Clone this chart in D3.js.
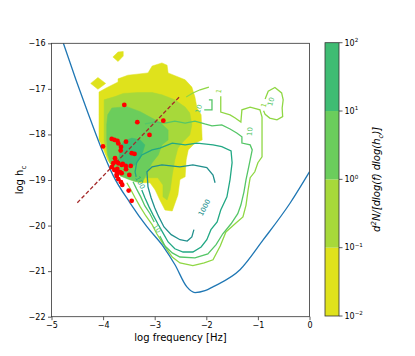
<!DOCTYPE html>
<html>
<head>
<meta charset="utf-8">
<script src="https://cdn.jsdelivr.net/npm/d3@7"></script>
<style>
  body { margin: 0; background: #fff; }
  svg { display: block; font-family: "DejaVu Sans", sans-serif; }
</style>
</head>
<body>
<svg id="chart" width="415" height="356"></svg>
<script>
// ---- data (log f [Hz], log h_c) ----
const xTicks = [-5, -4, -3, -2, -1, 0];
const yTicks = [-22, -21, -20, -19, -18, -17, -16];

// filled density levels and their colours
const fillLevels = [0.01, 0.1, 1, 10, 100];
const fillColors = ["#dfe21c", "#a7d93a", "#6bcd5c", "#3fbc73"];
const cbarExponents = [-2, -1, 0, 1, 2];

// region outlines for each filled band (outer -> inner)
const yellowRegion = [[-4.08,-18.12],[-4.08,-17.07],[-3.94,-16.98],[-3.71,-16.85],[-3.71,-16.78],[-3.52,-16.70],[-3.13,-16.65],[-3.05,-16.50],[-2.86,-16.43],[-2.76,-16.48],[-2.74,-16.65],[-2.41,-16.80],[-2.28,-16.96],[-2.22,-17.18],[-2.18,-17.42],[-2.10,-17.57],[-2.08,-18.12],[-2.22,-18.19],[-2.35,-18.34],[-2.39,-18.56],[-2.41,-18.93],[-2.51,-18.99],[-2.55,-19.33],[-2.66,-19.68],[-2.80,-19.66],[-2.90,-19.44],[-2.99,-19.22],[-3.09,-19.06],[-3.28,-19.06],[-3.48,-18.99],[-3.67,-18.89],[-3.81,-18.73],[-3.91,-18.56],[-3.99,-18.34],[-4.06,-18.16]];
const yellowDiamond = [[-4.24,-16.88],[-4.10,-16.75],[-3.95,-16.88],[-4.10,-17.01]];
const yellowTopBlob = [[-3.81,-16.30],[-3.71,-16.19],[-3.61,-16.18],[-3.61,-16.28],[-3.71,-16.40]];
const lightGreenRegion = [[-3.98,-17.24],[-3.77,-17.17],[-3.61,-17.10],[-3.32,-17.08],[-3.05,-17.08],[-2.86,-17.13],[-2.61,-17.24],[-2.41,-17.40],[-2.32,-17.53],[-2.28,-17.79],[-2.32,-18.01],[-2.45,-18.16],[-2.55,-18.30],[-2.61,-18.56],[-2.66,-18.89],[-2.70,-19.22],[-2.76,-19.44],[-2.84,-19.37],[-2.84,-19.11],[-2.94,-18.95],[-3.09,-18.95],[-3.28,-18.95],[-3.52,-18.93],[-3.71,-18.84],[-3.87,-18.62],[-3.94,-18.34],[-3.98,-18.12]];
const greenRegion = [[-3.91,-17.57],[-3.83,-17.42],[-3.54,-17.39],[-3.28,-17.50],[-3.09,-17.62],[-2.90,-17.73],[-2.74,-17.90],[-2.74,-18.12],[-2.86,-18.23],[-2.93,-18.45],[-3.05,-18.62],[-3.15,-18.84],[-3.23,-19.04],[-3.36,-19.04],[-3.52,-18.98],[-3.67,-18.91],[-3.83,-18.69],[-3.91,-18.45],[-3.93,-18.12],[-3.93,-17.79]];
const tealRegion = [[-3.67,-18.27],[-3.59,-18.14],[-3.44,-18.08],[-3.28,-18.12],[-3.19,-18.23],[-3.23,-18.38],[-3.28,-18.52],[-3.38,-18.67],[-3.52,-18.73],[-3.63,-18.67],[-3.69,-18.52]];

// contour line levels and colours
const lineLevels = [1, 10, 100, 1000];
const lineColors = ["#8fd744", "#55c667", "#22a884", "#21908d"];

const contour1 = [
  [[-2.39,-17.18],[-2.26,-17.09],[-2.12,-17.02],[-1.95,-16.96]],
  [[-1.72,-17.16],[-1.72,-17.51],[-1.54,-17.57],[-1.44,-17.64],[-1.33,-17.73],[-1.31,-17.46],[-1.15,-17.40],[-0.96,-17.46],[-0.92,-17.62],[-0.92,-18.49],[-1.00,-18.62],[-1.06,-18.82],[-1.15,-18.95],[-1.19,-19.22],[-1.23,-19.55],[-1.29,-19.81],[-1.42,-19.94],[-1.62,-20.14],[-1.73,-20.45],[-1.87,-20.75],[-2.04,-20.82],[-2.26,-20.88],[-2.51,-20.82],[-2.66,-20.69],[-2.76,-20.53],[-2.86,-20.36],[-2.96,-20.18],[-3.05,-19.98],[-3.17,-19.79],[-3.28,-19.59],[-3.38,-19.39],[-3.46,-19.22],[-3.54,-19.06]],
  [[-0.86,-17.22],[-0.80,-17.05],[-0.67,-16.97],[-0.54,-17.09],[-0.51,-17.24],[-0.53,-17.42],[-0.52,-17.61],[-0.63,-17.68],[-0.77,-17.64],[-0.86,-17.56],[-0.89,-17.48]]
];
const contour10 = [
  [[-3.19,-17.77],[-3.00,-17.73],[-2.80,-17.75],[-2.61,-17.71],[-2.41,-17.75],[-2.22,-17.71],[-2.03,-17.77],[-1.89,-17.81],[-1.70,-17.79],[-1.54,-17.88],[-1.41,-17.97],[-1.31,-18.05],[-1.31,-18.19],[-1.15,-18.23],[-1.11,-18.34],[-1.15,-18.56],[-1.19,-18.78],[-1.23,-18.99],[-1.27,-19.26],[-1.33,-19.55],[-1.39,-19.74],[-1.52,-19.96],[-1.68,-20.18],[-1.81,-20.42],[-1.97,-20.62],[-2.22,-20.71],[-2.51,-20.69],[-2.66,-20.60],[-2.80,-20.45],[-2.90,-20.23]],
  [[-3.01,-19.92],[-3.09,-19.74],[-3.19,-19.57],[-3.27,-19.37],[-3.35,-19.20],[-3.42,-19.04]],
  [[-2.04,-17.46],[-1.89,-17.46],[-1.89,-17.24],[-1.95,-17.24]]
];
const contour100 = [
  [[-3.25,-19.22],[-3.19,-19.39],[-3.11,-19.59],[-3.03,-19.77],[-2.94,-19.96],[-2.84,-20.16],[-2.74,-20.36],[-2.61,-20.51],[-2.45,-20.58],[-2.26,-20.58],[-2.10,-20.47],[-1.99,-20.31],[-1.91,-20.09],[-1.79,-19.92],[-1.72,-19.66],[-1.60,-19.37],[-1.54,-18.99],[-1.50,-18.62],[-1.52,-18.36],[-1.70,-18.27],[-1.87,-18.23],[-2.18,-18.19],[-2.41,-18.23],[-2.66,-18.19],[-2.90,-18.30],[-3.05,-18.34],[-3.25,-18.45],[-3.35,-18.62],[-3.38,-18.82],[-3.36,-18.93]]
];
const contour1000 = [
  [[-1.83,-19.06],[-1.87,-18.89],[-1.99,-18.73],[-2.26,-18.67],[-2.51,-18.71],[-2.86,-18.67],[-3.05,-18.71],[-3.15,-18.82],[-3.13,-19.15],[-3.07,-19.39],[-3.00,-19.61],[-2.92,-19.81],[-2.82,-20.03],[-2.68,-20.20],[-2.51,-20.31],[-2.37,-20.34],[-2.28,-20.25],[-2.24,-20.09]]
];

// inline contour labels: [level, log f, log h_c]
const labelLevels = [1, 1, 10, 10, 10, 10, 100, 1000];
const labelLogF   = [-1.75, -0.88, -2.14, -1.15, -0.74, -2.96, -3.29, -2.03];
const labelLogH   = [-17.05, -17.36, -17.44, -17.94, -17.28, -20.07, -19.06, -19.61];
const labelAngle  = [-80, -75, -75, -85, -75, 58, 62, -62];

// detector sensitivity curve
const sensLogF = [-4.77, -4.525, -4.293, -4.06, -3.802, -3.479, -3.155, -2.833, -2.607, -2.38, -2.219, -2.025, -1.864, -1.347, -0.895, -0.378, 0.0];
const sensLogH = [-16.0, -16.805, -17.529, -18.23, -18.91, -19.50, -20.02, -20.46, -20.86, -21.34, -21.47, -21.43, -21.34, -20.97, -20.31, -19.51, -18.82];

// dashed reference line
const refLogF = [-4.5, -2.5];
const refLogH = [-19.5, -17.15];

// individual sources
const srcLogF = [-3.589,-3.337,-2.833,-3.101,-4.002,-3.833,-3.779,-3.721,-3.556,-3.705,-3.653,-3.659,-3.446,-3.391,-3.769,-3.802,-3.756,-3.705,-3.640,-3.562,-3.465,-3.833,-3.783,-3.736,-3.736,-3.640,-3.492,-3.705,-3.653,-3.628,-3.504,-3.446,-3.620,-3.725,-3.672,-3.556,-3.736];
const srcLogH = [-17.353,-17.732,-17.697,-18.011,-18.263,-18.099,-18.121,-18.143,-18.158,-18.197,-18.274,-18.355,-18.412,-18.428,-18.522,-18.632,-18.592,-18.632,-18.669,-18.691,-18.691,-18.719,-18.778,-18.816,-18.877,-18.851,-18.888,-18.982,-19.048,-19.107,-19.232,-19.458,-18.647,-18.757,-18.829,-18.763,-18.910];

// ---- drawing ----
const svg = d3.select("#chart");
const plot = { left: 51.5, right: 309.5, top: 43.3, bottom: 316.7 };

const x = d3.scaleLinear().domain([-5, 0]).range([plot.left, plot.right]);
const y = d3.scaleLinear().domain([-22, -16]).range([plot.bottom, plot.top]);
const levelColor = d3.scaleOrdinal().domain(lineLevels).range(lineColors);

const line = d3.line().x(d => x(d[0])).y(d => y(d[1]));

svg.append("clipPath").attr("id", "clip")
  .append("rect")
  .attr("x", plot.left).attr("y", plot.top)
  .attr("width", plot.right - plot.left).attr("height", plot.bottom - plot.top);

const g = svg.append("g").attr("clip-path", "url(#clip)");

// filled bands, outermost first
const bands = [
  { shapes: [yellowRegion, yellowDiamond, yellowTopBlob], color: fillColors[0] },
  { shapes: [lightGreenRegion], color: fillColors[1] },
  { shapes: [greenRegion], color: fillColors[2] },
  { shapes: [tealRegion], color: fillColors[3] }
];
bands.forEach(b => {
  g.selectAll(null).data(b.shapes).enter().append("path")
    .attr("d", d => line(d) + "Z")
    .attr("fill", b.color)
    .attr("stroke", b.color)
    .attr("stroke-width", 0.5);
});

// contour lines
const contourSets = [contour1, contour10, contour100, contour1000];
contourSets.forEach((set, i) => {
  g.selectAll(null).data(set).enter().append("path")
    .attr("d", line)
    .attr("fill", "none")
    .attr("stroke", lineColors[i])
    .attr("stroke-width", 1.3);
});

// contour labels
g.selectAll(null).data(labelLevels).enter().append("text")
  .attr("transform", (d, i) => `translate(${x(labelLogF[i])},${y(labelLogH[i])}) rotate(${labelAngle[i]})`)
  .attr("text-anchor", "middle")
  .attr("dominant-baseline", "central")
  .attr("font-size", 7)
  .attr("fill", d => levelColor(d))
  .text(d => String(d));

// sensitivity curve
const sens = sensLogF.map((f, i) => [f, sensLogH[i]]);
g.append("path")
  .attr("d", d3.line().x(d => x(d[0])).y(d => y(d[1])).curve(d3.curveMonotoneX)(sens))
  .attr("fill", "none")
  .attr("stroke", "#1f77b4")
  .attr("stroke-width", 1.3);

// dashed reference line
g.append("path")
  .attr("d", line(refLogF.map((f, i) => [f, refLogH[i]])))
  .attr("fill", "none")
  .attr("stroke", "#a52a2a")
  .attr("stroke-width", 1.3)
  .attr("stroke-dasharray", "4,2.2");

// sources
g.selectAll(null).data(srcLogF).enter().append("circle")
  .attr("cx", d => x(d))
  .attr("cy", (d, i) => y(srcLogH[i]))
  .attr("r", 2.4)
  .attr("fill", "#ff0000");

// axes
const minus = v => (v < 0 ? "\u2212" + Math.abs(v) : String(v));
const xAxis = svg.append("g")
  .attr("transform", `translate(0,${plot.bottom})`)
  .call(d3.axisBottom(x).tickValues(xTicks).tickSize(3.5).tickPadding(2.5).tickFormat(minus));
const yAxis = svg.append("g")
  .attr("transform", `translate(${plot.left},0)`)
  .call(d3.axisLeft(y).tickValues(yTicks).tickSize(3.5).tickPadding(2.5).tickFormat(minus));
[xAxis, yAxis].forEach(a => {
  a.select(".domain").remove();
  a.selectAll("line").attr("stroke", "#333").attr("stroke-width", 0.8);
  a.selectAll("text").attr("font-size", 8).attr("fill", "#000").attr("font-family", "DejaVu Sans");
});

// frame
svg.append("rect")
  .attr("x", plot.left).attr("y", plot.top)
  .attr("width", plot.right - plot.left).attr("height", plot.bottom - plot.top)
  .attr("fill", "none").attr("stroke", "#333").attr("stroke-width", 0.8);

// axis labels
svg.append("text")
  .attr("x", (plot.left + plot.right) / 2).attr("y", 341)
  .attr("text-anchor", "middle").attr("font-size", 10)
  .text("log frequency [Hz]");

const yl = svg.append("text")
  .attr("transform", `translate(23,${(plot.top + plot.bottom) / 2}) rotate(-90)`)
  .attr("text-anchor", "middle").attr("font-size", 10);
yl.append("tspan").text("log h");
yl.append("tspan").attr("font-size", 7).attr("dy", 2.5).text("c");

// colorbar
const cb = { left: 325, right: 339, top: 42.7, bottom: 316 };
const cy = d3.scaleLog().domain([0.01, 100]).range([cb.bottom, cb.top]);
const cbar = svg.append("g");
cbar.selectAll("rect").data(fillColors).enter().append("rect")
  .attr("x", cb.left).attr("width", cb.right - cb.left)
  .attr("y", (d, i) => cy(fillLevels[i + 1]))
  .attr("height", (d, i) => cy(fillLevels[i]) - cy(fillLevels[i + 1]))
  .attr("fill", d => d);
cbar.append("rect")
  .attr("x", cb.left).attr("y", cb.top)
  .attr("width", cb.right - cb.left).attr("height", cb.bottom - cb.top)
  .attr("fill", "none").attr("stroke", "#333").attr("stroke-width", 0.8);

const cticks = cbar.selectAll("g.ct").data(cbarExponents).enter().append("g")
  .attr("class", "ct")
  .attr("transform", d => `translate(${cb.right},${cy(Math.pow(10, d))})`);
cticks.append("line").attr("x2", 3.5).attr("stroke", "#333").attr("stroke-width", 0.8);
const ct = cticks.append("text")
  .attr("x", 5.5).attr("dy", "0.35em").attr("font-size", 8);
ct.append("tspan").text("10");
ct.append("tspan").attr("font-size", 5.6).attr("dy", -3.5)
  .text(d => (d < 0 ? "\u2212" + Math.abs(d) : String(d)));

// colorbar label
const cl = svg.append("text")
  .attr("transform", `translate(380,${(cb.top + cb.bottom) / 2}) rotate(-90)`)
  .attr("text-anchor", "middle").attr("font-size", 10).attr("font-style", "italic");
cl.append("tspan").text("d");
cl.append("tspan").attr("font-size", 7).attr("dy", -4).text("2");
cl.append("tspan").attr("dy", 4).text("N/[dlog(f) dlog(h");
cl.append("tspan").attr("font-size", 7).attr("dy", 2.5).text("c");
cl.append("tspan").attr("dy", -2.5).text(")]");
</script>
</body>
</html>
